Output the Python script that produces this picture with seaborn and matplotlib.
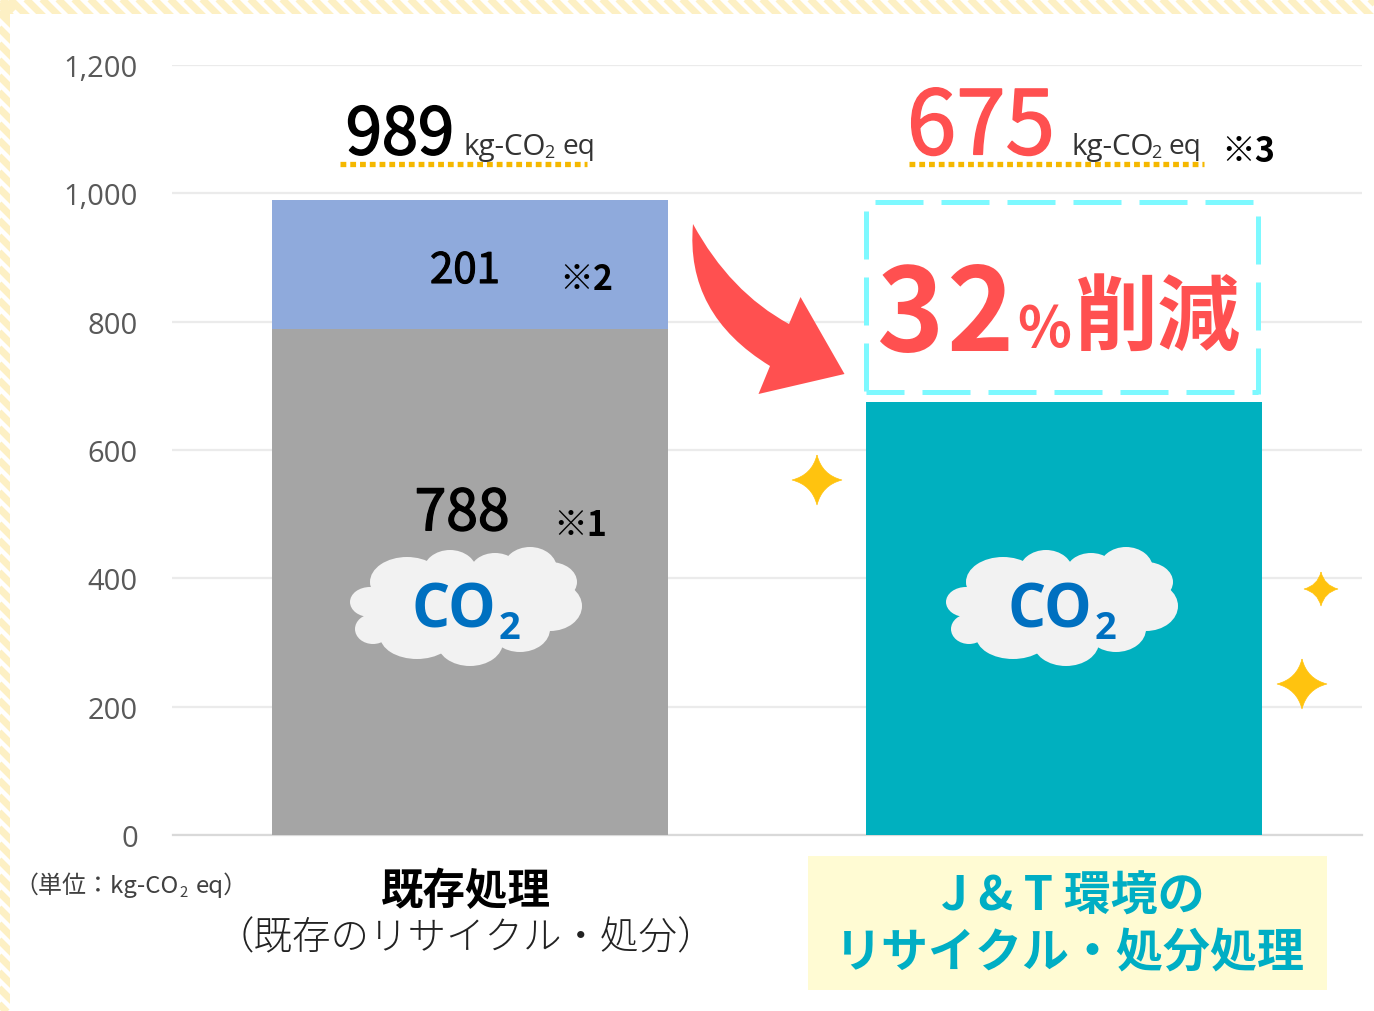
import numpy as np
import pandas as pd
import matplotlib.pyplot as plt
import matplotlib.patheffects as pe
import seaborn as sns
from matplotlib.lines import Line2D
from matplotlib.patches import Ellipse, PathPatch, Rectangle
from matplotlib.path import Path

# data
categories = ["既存処理", "J&T環境"]
base_values = [788, 675]
upper_values = [201, 0]
y_ticks = [0, 200, 400, 600, 800, 1000, 1200]

GREY = "#A5A5A5"
BLUE = "#8FAADC"
TEAL = "#00B0BF"
RED = "#FF5050"
CYAN = "#7DF9FF"
GOLD = "#FFC30F"
JP = ["Noto Sans CJK JP", "DejaVu Sans"]

sns.set_theme(style="white")
plt.rcParams["font.family"] = JP

W, H = 1374, 1012
fig = plt.figure(figsize=(W / 100, H / 100), dpi=100, facecolor="white")


def pixel_axes(z):
    a = fig.add_axes([0, 0, 1, 1], zorder=z)
    a.set_xlim(0, W)
    a.set_ylim(H, 0)
    a.axis("off")
    a.patch.set_alpha(0)
    return a


# striped page border
bg = pixel_axes(0)
for s in range(-40, W + 40, 16):
    bg.plot([s, s + 20], [-2, 18], color="#FDF0C4", lw=5, solid_capstyle="butt")
for s in range(-20, H + 40, 16):
    bg.plot([-2, 14], [s, s + 16], color="#FDF0C4", lw=5, solid_capstyle="butt")
bg.add_patch(Rectangle((10, 15), W, H, color="white", lw=0, zorder=3))

# chart
ax = fig.add_axes([172.5 / W, (H - 836) / H, 1189 / W, 770 / H], zorder=1)
ax.patch.set_alpha(0)
df = pd.DataFrame({"cat": categories, "base": base_values, "upper": upper_values})
df["total"] = df["base"] + df["upper"]
sns.barplot(data=df, x="cat", y="total", color=BLUE, width=0.666, saturation=1, linewidth=0,
            edgecolor="none", ax=ax, zorder=2)
sns.barplot(data=df, x="cat", y="base", hue="cat", palette=[GREY, TEAL], width=0.666,
            saturation=1, linewidth=0, edgecolor="none", legend=False, ax=ax, zorder=3)
ax.set_xlim(-0.5, 1.5)
ax.set_ylim(0, 1200)
ax.set_yticks(y_ticks)
ax.set_yticklabels([f"{v:,}" for v in y_ticks], color="#595959", fontsize=21, family=["Open Sans"],
                   va="center_baseline")
ax.set_xticklabels([])
ax.set_xlabel("")
ax.set_ylabel("")
ax.tick_params(axis="y", length=0, pad=25)
ax.tick_params(axis="x", length=0)
ax.yaxis.grid(True, color="#EBEBEB", lw=1.6, zorder=0)
ax.set_axisbelow(True)
sns.despine(ax=ax, left=True, top=True, right=True)
ax.spines["bottom"].set_color("#D9D9D9")
ax.spines["bottom"].set_linewidth(1.6)

fg = pixel_axes(2)


def label(x, y, s, px, color="black", weight="normal", ha="left", heavy=0, **kw):
    t = fg.text(x, y, s, fontsize=px * 0.72, color=color, fontweight=weight, ha=ha, va="center", **kw)
    if heavy:
        t.set_path_effects([pe.withStroke(linewidth=heavy, foreground=color)])


def kg_co2(x, y):
    label(x, y, "kg-CO", 29.5, "#333333", family=["Open Sans"])
    label(x + 80, y + 6, "2", 18, "#333333", family=["Open Sans"])
    label(x + 98, y, "eq", 28, "#333333", family=["Open Sans"])


# headline values
label(400, 137, "989", 65, ha="center", heavy=1.2)
kg_co2(464, 147)
label(981, 130, "675", 89, RED, ha="center", heavy=1.2)
kg_co2(1071, 147)
label(1248, 151, "※3", 34, ha="center", weight="bold")
dots = (0, (1.1, 0.75))
for x0, x1 in [(340, 587), (909, 1204)]:
    fg.add_line(Line2D([x0, x1], [165, 165], color="#F5B800", lw=3.8, ls=dots, dash_capstyle="butt"))

# labels in the bars
label(465, 272, "201", 42, ha="center", heavy=0.8)
label(586, 279, "※2", 34, ha="center", weight="bold")
label(462, 515, "788", 57, ha="center", heavy=1)
label(580, 525, "※1", 34, ha="center", weight="bold")

# clouds
lobes = [(40, 83, 20, 15), (43, 110, 18, 15), (77, 63, 37, 25), (120, 53, 27, 22), (165, 53, 25, 19),
         (200, 50, 27, 22), (220, 63, 27, 20), (220, 87, 32, 25), (190, 110, 30, 23),
         (140, 123, 33, 24), (87, 117, 37, 23), (135, 88, 85, 40), (75, 92, 40, 28)]
for dx in [0, 596]:
    for cx, cy, rx, ry in lobes:
        fg.add_patch(Ellipse((330 + dx + cx, 520 + cy), 2 * rx, 2 * ry, color="#F2F2F2", lw=0))
    label(454 + dx, 612, "CO", 60, "#0070C0", ha="center", weight="bold", family=["Open Sans"])
    label(509 + dx, 629, "2", 38, "#0070C0", ha="center", weight="bold", family=["Open Sans"])

# sparkles
for cx, cy, r in [(817, 481, 25), (1321, 590, 17), (1302, 685, 25)]:
    k = 0.2 * r
    verts = [(cx, cy - r), (cx + k, cy - k), (cx + r, cy), (cx + k, cy + k), (cx, cy + r),
             (cx - k, cy + k), (cx - r, cy), (cx - k, cy - k), (cx, cy - r)]
    codes = [Path.MOVETO] + [Path.CURVE3] * 8
    fg.add_patch(PathPatch(Path(verts, codes), facecolor=GOLD, edgecolor=GOLD, lw=0.5))

# reduction arrow
arrow = [(693, 225), (685, 315), (770, 367), (758.5, 395), (844.5, 375), (800.5, 298), (789, 325),
         (730, 293), (693, 225)]
arrow_codes = [Path.MOVETO, Path.CURVE3, Path.CURVE3, Path.LINETO, Path.LINETO, Path.LINETO,
               Path.LINETO, Path.CURVE3, Path.CURVE3]
fg.add_patch(PathPatch(Path(arrow, arrow_codes), facecolor=RED, edgecolor="none"))

# dashed box
fg.add_patch(Rectangle((866, 203), 392, 190, facecolor="white", edgecolor="none"))
lw = 3.6
pat = (48 * 0.72 / lw, 18 * 0.72 / lw)
for xs, ys, off in [((875, 1258), (203, 203), 0), ((866, 1258), (393, 393), 10 * 0.72 / lw),
                    ((866, 866), (212, 393), 0), ((1258, 1258), (217, 395), 0)]:
    fg.add_line(Line2D(xs, ys, color=CYAN, lw=lw, ls=(off, pat), dash_capstyle="butt"))
label(876, 318, "3", 114, RED, weight="bold")
label(946, 318, "2", 114, RED, weight="bold")
label(1017, 330, "%", 56, RED, weight="bold")
label(1075, 319, "削減", 83, RED, weight="bold")

# axis captions
label(14, 885, "（単位：kg-CO", 24, "#404040")
label(179, 893, "2", 15, "#404040")
label(196, 885, "eq）", 24, "#404040")
label(466, 891, categories[0], 42.5, ha="center", weight="bold")
label(466, 939, "（既存のリサイクル・処分）", 38.5, "#222222", ha="center", weight="light")
fg.add_patch(Rectangle((808, 857), 519, 134, facecolor="#FFFBD3", edgecolor="none"))
label(1073, 897, "J & T 環境の", 47, "#00AEC4", ha="center", weight="bold")
label(1070, 953, "リサイクル・処分処理", 47, "#00AEC4", ha="center", weight="bold")

fig.savefig("out.png", dpi=100)
